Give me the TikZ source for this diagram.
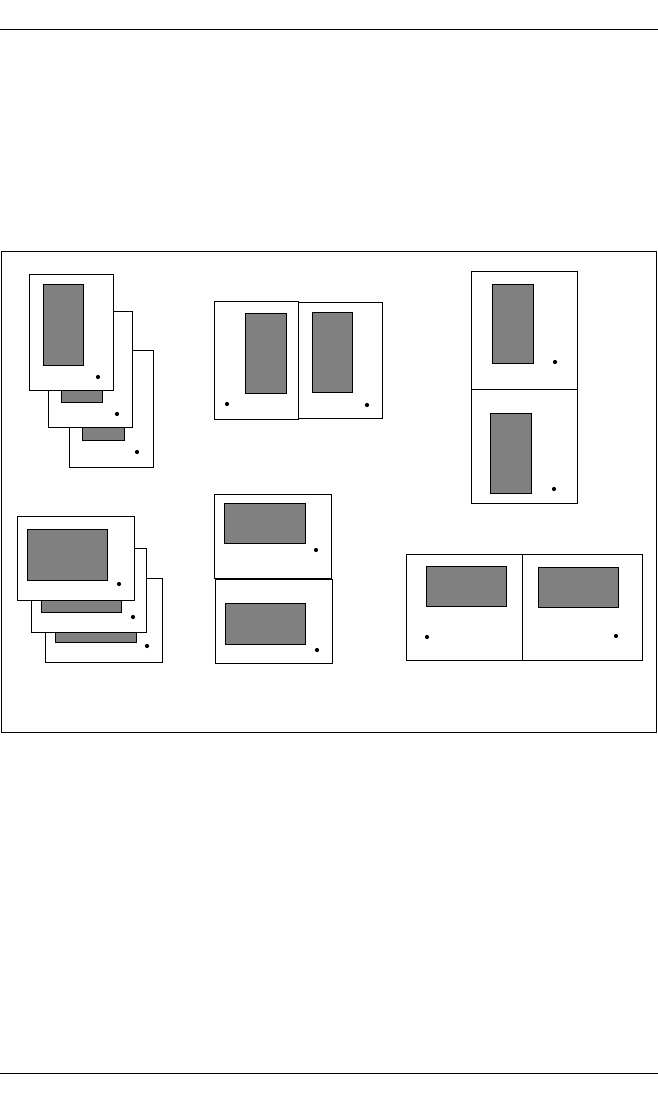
\documentclass[tikz,border=0pt]{standalone}
\usepackage{tikz}
\usetikzlibrary{positioning}

\begin{document}
\begin{tikzpicture}[
    x = 1pt, y = -1pt,
    line width = 0.8pt,
    panel/.style={draw, fill=white},
    screen/.style={draw, fill=gray},
    led/.style={circle, fill, inner sep=0pt, minimum size=4.2pt},
    rule/.style={line width=1pt}
]
\useasboundingbox (0,0) rectangle (658,1105);

% --- page rules and frame ---
\draw[rule] (0,30) -- (658,30);
\draw[rule] (0,1073) -- (658,1073);
\draw (1,251) rectangle (656.5,732.5);

% --- TOP LEFT: stacked portrait panels (back to front) ---
\draw[panel] (69,350) rectangle (153,467);
\draw[screen] (82,360) rectangle (124,440);
\node[led] (p3led) at (137,452) {};

\draw[panel] (48,311) rectangle (132,427);
\draw[screen] (61,321) rectangle (102,402);
\node[led] (p2led) at (117,414) {};

\draw[panel] (29,274) rectangle (113,390);
\draw[screen] (43,284) rectangle (83,365);
\node[led] (p1led) at (98,377) {};

% --- TOP MIDDLE: portrait panels side by side ---
\draw[panel] (214,301) rectangle (298,419);
\draw[screen] (245,313) rectangle (286,393);
\node[led] (qaled) at (227,404) {};

\draw[panel] (298,302) rectangle (382,418);
\draw[screen] (312,312) rectangle (352,392);
\node[led] (qbled) at (367,405) {};

% --- TOP RIGHT: portrait panels stacked ---
\draw[panel] (471,271) rectangle (577,503);
\draw (471,389) -- (577,389);
\draw[screen] (492,284) rectangle (533,363);
\node[led] (raled) at (555,362) {};
\draw[screen] (490,413) rectangle (531,493);
\node[led] (rbled) at (554,489) {};

% --- BOTTOM LEFT: stacked landscape panels (back to front) ---
\draw[panel] (45,578) rectangle (162,662);
\draw[screen] (55,590) rectangle (136,642);
\node[led] (s3led) at (147,646) {};

\draw[panel] (31,548) rectangle (146,632);
\draw[screen] (41,560) rectangle (121,612);
\node[led] (s2led) at (133,617) {};

\draw[panel] (17,516) rectangle (134,600);
\draw[screen] (27,529) rectangle (107,580);
\node[led] (s1led) at (119,584) {};

% --- BOTTOM MIDDLE: landscape panels stacked ---
\draw[panel] (214,494) rectangle (331,578);
\draw[screen] (224,503) rectangle (305,543);
\node[led] (taled) at (316,550) {};

\draw[panel] (215,579) rectangle (332,663);
\draw[screen] (225,603) rectangle (305,644);
\node[led] (tbled) at (317,650) {};

% --- BOTTOM RIGHT: landscape panels side by side ---
\draw[panel] (406,554) rectangle (642,660);
\draw (522,554) -- (522,660);
\draw[screen] (426,566) rectangle (506,606);
\node[led] (ualed) at (427,637) {};
\draw[screen] (538,567) rectangle (618,607);
\node[led] (ubled) at (616,636) {};

\end{tikzpicture}
\end{document}
